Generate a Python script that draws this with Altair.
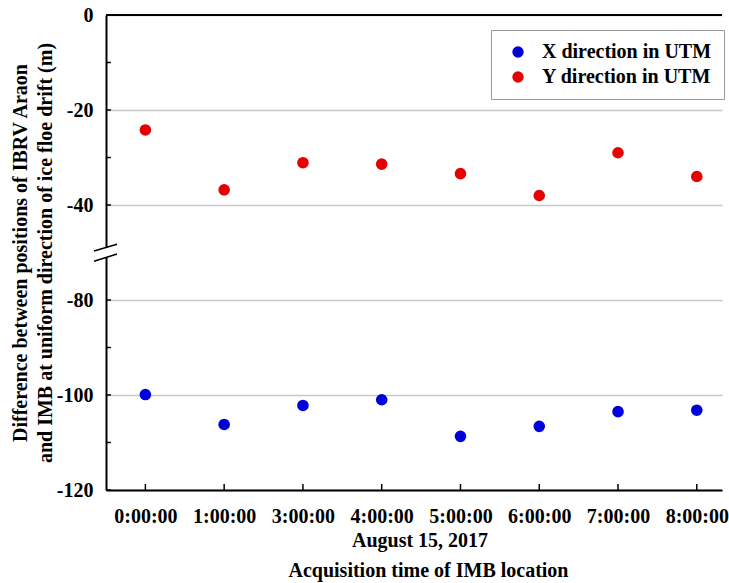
import altair as alt
import pandas as pd

times = ["0:00:00", "1:00:00", "3:00:00", "4:00:00", "5:00:00", "6:00:00", "7:00:00", "8:00:00"]
x_dir = [-99.9, -106.2, -102.2, -101.0, -108.7, -106.6, -103.5, -103.2]
y_dir = [-24.2, -36.8, -31.1, -31.4, -33.4, -38.0, -29.0, -34.0]
series = ["X direction in UTM", "Y direction in UTM"]
colors = ["#0000DD", "#E80000"]
y_ticks_real = [0, -20, -40, -80, -100, -120]

FONT = "Liberation Serif"
FS = 20
W, H = 616, 475
GAP = 20  # collapsed part of the broken axis (-40..-80 shown as 20 units)


def to_plot(v):
    return v if v > -50 else v + GAP


rows = []
for i, t in enumerate(times):
    rows.append({"idx": i, "time": t, "series": series[0], "val": x_dir[i], "yp": to_plot(x_dir[i])})
    rows.append({"idx": i, "time": t, "series": series[1], "val": y_dir[i], "yp": to_plot(y_dir[i])})
df = pd.DataFrame(rows)

tick_vals = [to_plot(v) for v in y_ticks_real]
minor = pd.DataFrame({"yp": [0, -10, -20, -30, -40, -60, -70, -80, -90, -100]})
xt = pd.DataFrame({"idx": list(range(len(times)))})

xscale = alt.Scale(domain=[-0.5, 7.32], nice=False, zero=False)
yscale = alt.Scale(domain=[-100, 0], nice=False, zero=False)

label_expr = "datum.value < -50 ? '' + (datum.value - 20) : '' + datum.value"
xlabel_expr = "[" + ",".join("'%s'" % t for t in times) + "][datum.value]"

points = alt.Chart(df).mark_circle(size=135, opacity=1).encode(
    x=alt.X("idx:Q", scale=xscale,
            axis=alt.Axis(values=list(range(len(times))), labelExpr=xlabel_expr,
                          grid=False, ticks=False, domainColor="black", domainWidth=2,
                          labelFont=FONT, labelFontSize=FS, labelFontWeight="bold",
                          labelColor="black", labelPadding=16,
                          title="Acquisition time of IMB location",
                          titleFont=FONT, titleFontSize=FS, titleFontWeight="bold",
                          titleColor="black", titleX=322, titleY=80,
                          titleBaseline="middle", titleAnchor="start", titleAlign="center")),
    y=alt.Y("yp:Q", scale=yscale,
            axis=alt.Axis(values=tick_vals, labelExpr=label_expr,
                          grid=True, gridColor="#C8C8C8", gridWidth=1.5,
                          ticks=False, domainColor="black", domainWidth=2,
                          labelFont=FONT, labelFontSize=FS, labelFontWeight="bold",
                          labelColor="black", labelPadding=13,
                          title=["Difference between positions of IBRV Araon",
                                 "and IMB at uniform direction of ice floe drift (m)"],
                          titleFont=FONT, titleFontSize=FS, titleFontWeight="bold",
                          titleColor="black", titlePadding=1, titleLineHeight=25)),
    color=alt.Color("series:N", scale=alt.Scale(domain=series, range=colors),
                    legend=alt.Legend(title=None, orient="none", legendX=385, legendY=15,
                                      symbolType="circle", symbolSize=130,
                                      labelFont=FONT, labelFontSize=FS, labelFontWeight="bold",
                                      labelColor="black", labelOffset=14, labelLimit=400,
                                      padding=12, symbolOffset=5, rowPadding=5,
                                      strokeColor="#999999", fillColor="white")),
)

top_border = alt.Chart(pd.DataFrame({"yp": [0]})).mark_rule(color="black", strokeWidth=2).encode(
    y=alt.Y("yp:Q", scale=yscale), x=alt.value(0), x2=alt.value(W))

ytick_marks = alt.Chart(minor).mark_rule(color="black", strokeWidth=1.5).encode(
    y=alt.Y("yp:Q", scale=yscale), x=alt.value(0), x2=alt.value(5))

xtick_marks = alt.Chart(xt).mark_rule(color="black", strokeWidth=1.5).encode(
    x=alt.X("idx:Q", scale=xscale), y=alt.value(H), y2=alt.value(H - 6))

date_text = alt.Chart(pd.DataFrame({"t": ["August 15, 2017"]})).mark_text(
    font=FONT, fontSize=FS, fontWeight="bold", color="black", align="center", baseline="middle"
).encode(text="t:N", x=alt.value(314), y=alt.value(526))

# axis break: white gap and two slashes
one = pd.DataFrame({"a": [0]})
gap = alt.Chart(one).mark_rule(color="white", strokeWidth=5).encode(
    x=alt.value(0), y=alt.value(233), y2=alt.value(242))
slash1 = alt.Chart(one).mark_rule(color="black", strokeWidth=1.5).encode(
    x=alt.value(-12), x2=alt.value(11), y=alt.value(236.0), y2=alt.value(229.3))
slash2 = alt.Chart(one).mark_rule(color="black", strokeWidth=1.5).encode(
    x=alt.value(-12), x2=alt.value(11), y=alt.value(246.3), y2=alt.value(239.0))

chart = alt.layer(points, top_border, ytick_marks, xtick_marks, date_text, gap, slash1, slash2).properties(
    width=W, height=H,
    padding={"left": 106, "top": 15, "right": 7, "bottom": 93},
    autosize=alt.AutoSizeParams(type="none"),
    background="white",
).configure_view(stroke=None)

chart.save("out.html", embed_options={"renderer": "svg", "actions": False})
